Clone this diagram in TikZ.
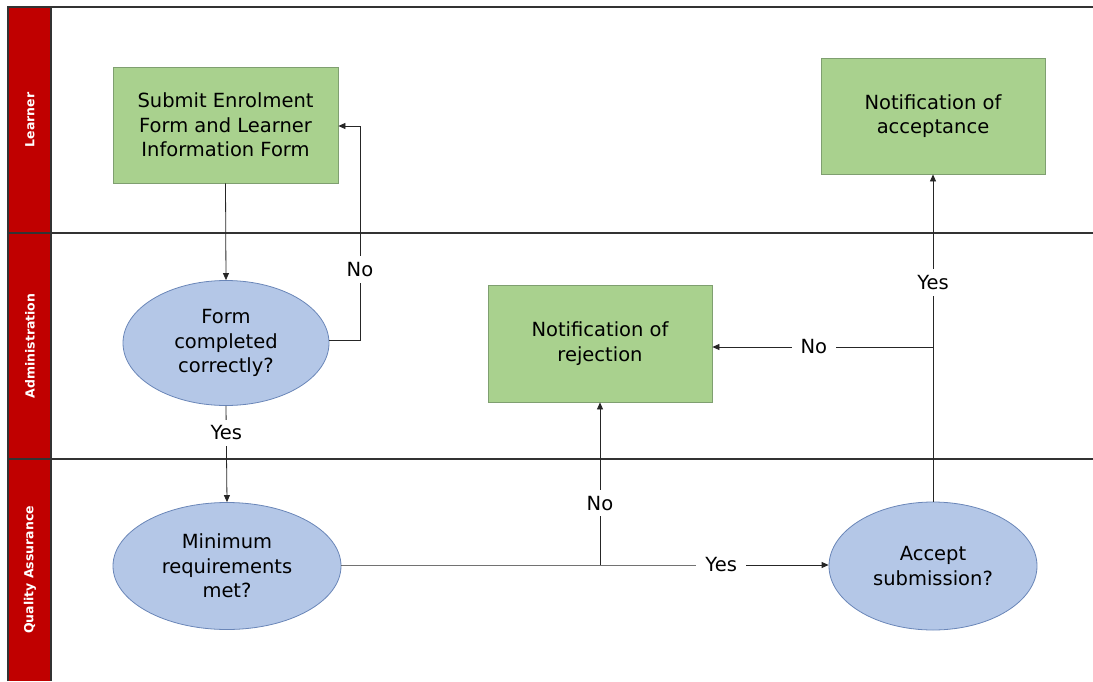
\documentclass[tikz,border=0pt]{standalone}
\usepackage{fontspec}
\setmainfont{DejaVu Sans}
\usetikzlibrary{shapes.geometric,arrows.meta}
\definecolor{lanered}{HTML}{C00000}
\definecolor{boxgreen}{HTML}{A9D18E}
\definecolor{boxgreenline}{HTML}{7F9F70}
\definecolor{ellblue}{HTML}{B4C7E7}
\definecolor{ellblueline}{HTML}{6A86B8}
\tikzset{
  lanelabel/.style={text=white, font=\bfseries\fontsize{12.5}{14}\selectfont, rotate=90},
  procbox/.style={draw=boxgreenline, fill=boxgreen, line width=0.8pt, minimum width=225pt, minimum height=116pt, inner sep=0pt, align=center, font=\fontsize{19.5}{24.5}\selectfont},
  decision/.style={ellipse, draw=ellblueline, fill=ellblue, line width=0.8pt, inner sep=0pt, align=center, font=\fontsize{19.5}{24.5}\selectfont},
  conn/.style={draw=black!85, line width=0.8pt},
  arr/.style={conn, -{Triangle[length=7pt,width=6pt]}},
  lbl/.style={fill=white, inner xsep=9pt, inner ysep=6pt, font=\fontsize{19.5}{22}\selectfont},
  frameline/.style={draw=black!80, line width=1.4pt}
}
\begin{document}
\begin{tikzpicture}[x=1pt,y=-1pt]
\useasboundingbox (0,0) rectangle (1093,681);
% lanes
\fill[lanered] (8,7) rectangle (51,681);
\draw[frameline] (8,681) -- (8,7) -- (1093,7);
\draw[frameline] (51,7) -- (51,681);
\draw[frameline] (8,233) -- (1093,233);
\draw[frameline] (8,459) -- (1093,459);
\node[lanelabel] (lnL) at (30,120) {Learner};
\node[lanelabel] (lnA) at (30,346) {Administration};
\node[lanelabel] (lnQ) at (30,570) {Quality Assurance};
% nodes
\node[procbox] (submit) at (225.5,125) {Submit Enrolment\\Form and Learner\\Information Form};
\node[decision, minimum width=206pt, minimum height=125pt] (form) at (226,343) {Form\\completed\\correctly?};
\node[decision, minimum width=228pt, minimum height=127pt] (minreq) at (227,566) {Minimum\\requirements\\met?};
\node[procbox, minimum width=224pt, minimum height=117pt] (reject) at (600,343.5) {Notification of\\rejection};
\node[procbox, minimum width=224pt, minimum height=116pt] (accept) at (933,116) {Notification of\\acceptance};
\node[decision, minimum width=208pt, minimum height=128pt] (acsub) at (933,566) {Accept\\submission?};
% coordinates
\coordinate (c1) at (360,340);
\coordinate (c2) at (360,126);
\coordinate (c3) at (600,565);
\coordinate (c4) at (933,347);
% connectors
\draw[arr] (submit.south) -- (form.north);
\draw[conn] (form.east |- c1) -- (c1) -- node[lbl, pos=0.33] (noA) {No} (c2);
\draw[arr] (c2) -- (submit.east |- c2);
\draw[arr] (form.south) -- node[lbl, pos=0.28] (yesA) {Yes} (minreq.north);
\draw[arr] (minreq.east |- c3) -- (c3) -- node[lbl, pos=0.53] (yesB) {Yes} (acsub.west |- c3);
\draw[arr] (c3) -- node[lbl, pos=0.38] (noB) {No} (reject.south);
\draw[arr] (acsub.north) -- node[lbl, pos=0.67] (yesC) {Yes} (accept.south);
\draw[arr] (c4) -- node[lbl, pos=0.54] (noC) {No} (reject.east |- c4);
\end{tikzpicture}
\end{document}
